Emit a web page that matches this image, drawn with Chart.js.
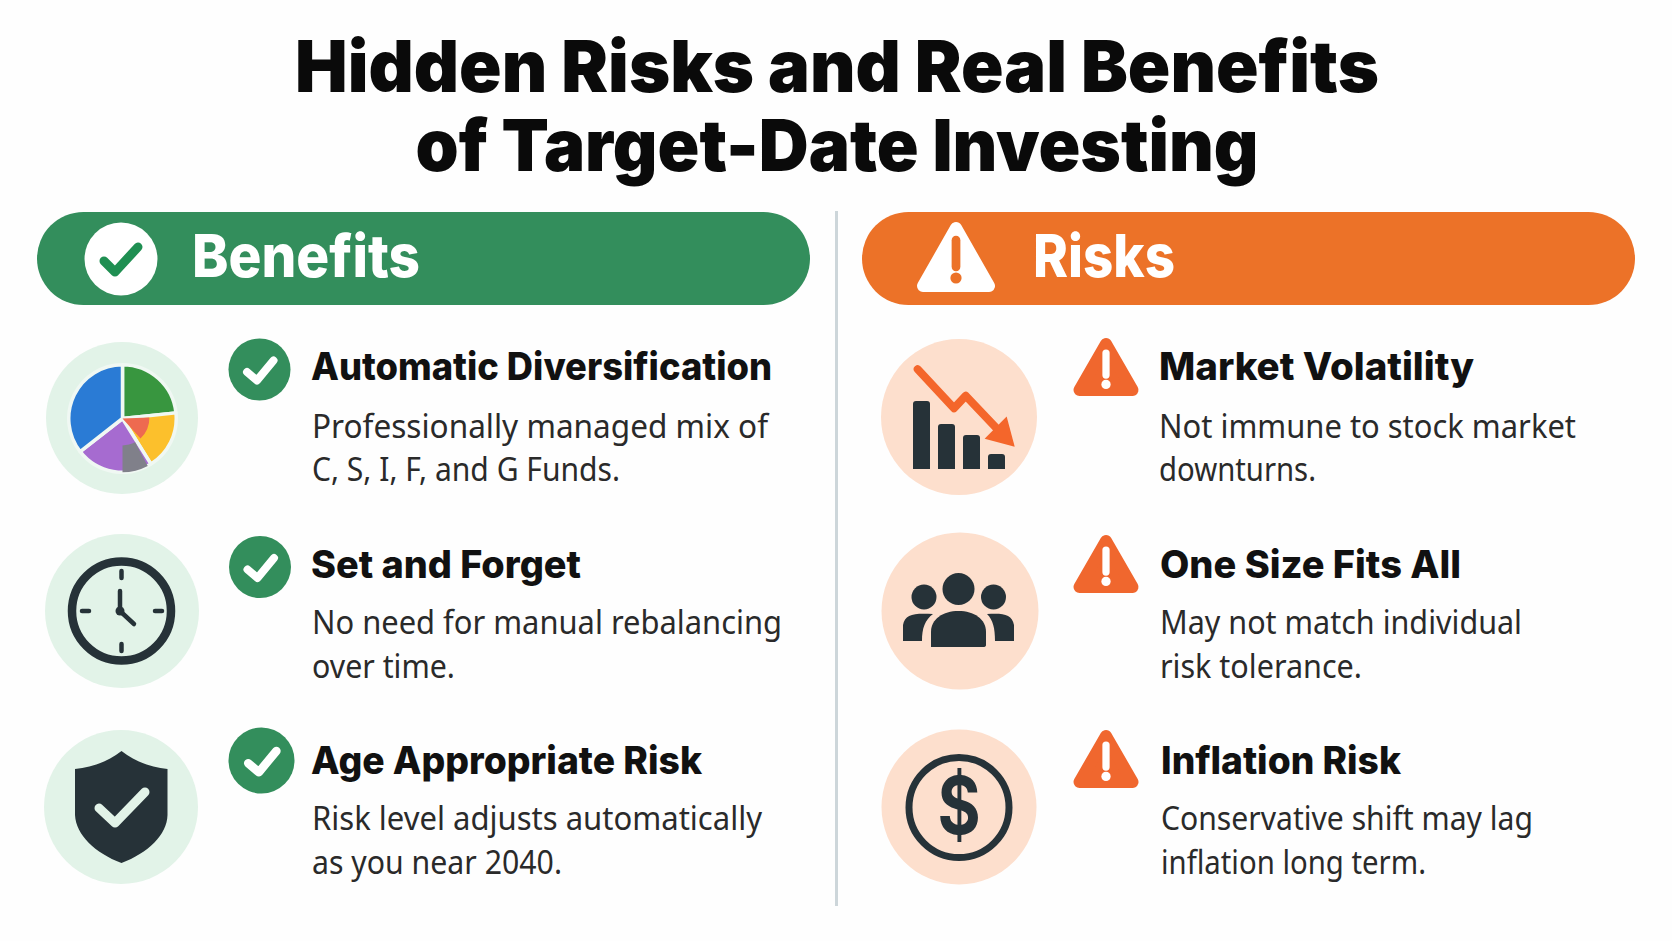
<!DOCTYPE html>
<html>
<head>
<meta charset="utf-8">
<title>Hidden Risks and Real Benefits of Target-Date Investing</title>
<script src="https://cdn.jsdelivr.net/npm/chart.js@4/dist/chart.umd.min.js"></script>
<style>
  html, body { margin: 0; padding: 0; background: #fefefe; }
  #page { position: relative; width: 1672px; height: 941px; overflow: hidden; }
  #page svg { position: absolute; left: 0; top: 0; }
  .icon-chart { position: absolute; }
  .icon-chart canvas { display: block; }
  text { font-family: Inter, sans-serif; }
  .title { font-size: 72px; font-weight: 900; fill: #0a0a0a; text-anchor: middle; }
  .banner { font-size: 59px; font-weight: 800; fill: #fff; }
  .head { font-size: 38px; font-weight: 800; fill: #111; }
  .body { font-family: "Noto Sans", sans-serif; font-size: 32px; fill: #2a2a2a; }
</style>
</head>
<body>
<div id="page">
  <svg id="art" width="1672" height="941" viewBox="0 0 1672 941" xmlns="http://www.w3.org/2000/svg"></svg>
  <div class="icon-chart" style="left:67px;top:363px;width:111px;height:111px"><canvas id="pieBase"></canvas></div>
  <div class="icon-chart" style="left:67px;top:363px;width:111px;height:111px"><canvas id="pieInner"></canvas></div>
  <div class="icon-chart" style="left:909px;top:399px;width:100px;height:70px"><canvas id="barsIcon"></canvas></div>
  <div class="icon-chart" style="left:905px;top:355px;width:120px;height:100px"><canvas id="trendIcon"></canvas></div>
</div>

<script>
// text
const titleLines = ['Hidden Risks and Real Benefits', 'of Target-Date Investing'];
const benefitHeads = ['Automatic Diversification', 'Set and Forget', 'Age Appropriate Risk'];
const benefitBodies = [
    ['Professionally managed mix of', 'C, S, I, F, and G Funds.'],
    ['No need for manual rebalancing', 'over time.'],
    ['Risk level adjusts automatically', 'as you near 2040.']
];
const riskHeads = ['Market Volatility', 'One Size Fits All', 'Inflation Risk'];
const riskBodies = [
    ['Not immune to stock market', 'downturns.'],
    ['May not match individual', 'risk tolerance.'],
    ['Conservative shift may lag', 'inflation long term.']
];

// pie icon, degrees of each slice going clockwise from the top
const pieLabels = ['Green', 'Yellow', 'Purple', 'Blue'];
const pieValues = [84, 64, 84, 128];
const pieColors = ['#38963f', '#fcc02c', '#a66bd0', '#2a7bd5'];
const pieOverlayOuter = [152, 28, 180];
const pieOverlayInner = [88, 50, 222];

// falling bars icon
const barLabels = ['1', '2', '3', '4'];
const barValues = [68, 45, 34, 15];

// falling trend line icon
const trendX = [12.7, 49, 60.7, 97];
const trendY = [85.7, 46.7, 59.3, 21];

const GREEN = '#338e5c';
const ORANGE = '#ec7228';
const ALERT = '#f0672e';
const DARK = '#263238';
const PALE_GREEN = '#e2f3e8';
const PALE_ORANGE = '#fddfcd';

const art = document.getElementById('art');
let svg = '';

function addText(cls, x, y, str, width) {
    const safe = str.replace(/&/g, '&amp;');
    const fit = width ? ` textLength="${width}" lengthAdjust="spacingAndGlyphs"` : '';
    svg += `<text class="${cls}" x="${x}" y="${y}"${fit}>${safe}</text>`;
}

function checkBadge(cx, cy, r) {
    const k = r / 31;
    svg += `<circle cx="${cx}" cy="${cy}" r="${r}" fill="${GREEN}"/>`;
    svg += `<polyline points="${cx - 12.5 * k},${cy + 2.5 * k} ${cx - 2.5 * k},${cy + 11 * k} ${cx + 14 * k},${cy - 9 * k}" fill="none" stroke="#fff" stroke-width="${8 * k}" stroke-linecap="round" stroke-linejoin="round"/>`;
}

function warnTriangle(cx, top, bottom, halfW, fill, mark) {
    const rad = 6;
    svg += `<path d="M${cx} ${top + rad} L${cx + halfW - rad} ${bottom - rad} L${cx - halfW + rad} ${bottom - rad} Z" fill="${fill}" stroke="${fill}" stroke-width="${rad * 2}" stroke-linejoin="round"/>`;
    const h = bottom - top;
    svg += `<line x1="${cx}" y1="${top + h * 0.26}" x2="${cx}" y2="${top + h * 0.64}" stroke="${mark}" stroke-width="${h * 0.125}" stroke-linecap="round"/>`;
    svg += `<circle cx="${cx}" cy="${top + h * 0.8}" r="${h * 0.08}" fill="${mark}"/>`;
}

// title
addText('title', 837, 92, titleLines[0], 1084);
addText('title', 837, 171, titleLines[1], 843);

// banners and divider
svg += `<rect x="37" y="212" width="773" height="93" rx="46.5" fill="${GREEN}"/>`;
svg += `<rect x="862" y="212" width="773" height="93" rx="46.5" fill="${ORANGE}"/>`;
svg += `<line x1="836.5" y1="211" x2="836.5" y2="906" stroke="#cdd6da" stroke-width="3"/>`;
svg += `<circle cx="121" cy="259" r="36.5" fill="#fff"/>`;
svg += `<polyline points="104,261 115,272 138,247" fill="none" stroke="#1f8f52" stroke-width="9" stroke-linecap="round" stroke-linejoin="round"/>`;
warnTriangle(956, 222, 292, 39, '#fff', ORANGE);
addText('banner', 192, 277, 'Benefits', 228);
addText('banner', 1033, 277, 'Risks', 142);

// rows of text, baselines per row
const headBase = [380, 578, 774];
const lineBase = [[438, 481], [634, 678], [830, 874]];
const leftX = [311, 311, 311];
const rightX = [1159, 1160, 1161];
const benefitHeadWidths = [461, 270, 391];
const riskHeadWidths = [315, 301, 240];
const benefitLineWidths = [[456, 308], [470, 143], [450, 250]];
const riskLineWidths = [[417, 157], [362, 202], [372, 265]];
benefitHeads.forEach((h, i) => {
    addText('head', leftX[i], headBase[i], h, benefitHeadWidths[i]);
    benefitBodies[i].forEach((l, j) => addText('body', leftX[i] + 1, lineBase[i][j], l, benefitLineWidths[i][j]));
});
riskHeads.forEach((h, i) => {
    addText('head', rightX[i], headBase[i], h, riskHeadWidths[i]);
    riskBodies[i].forEach((l, j) => addText('body', rightX[i], lineBase[i][j], l, riskLineWidths[i][j]));
});

// pale discs behind icons
svg += `<circle cx="122" cy="418" r="76" fill="${PALE_GREEN}"/>`;
svg += `<circle cx="122" cy="611" r="77" fill="${PALE_GREEN}"/>`;
svg += `<circle cx="121" cy="807" r="77" fill="${PALE_GREEN}"/>`;
svg += `<circle cx="959" cy="417" r="78" fill="${PALE_ORANGE}"/>`;
svg += `<circle cx="960" cy="611" r="78.5" fill="${PALE_ORANGE}"/>`;
svg += `<circle cx="959" cy="807" r="77.5" fill="${PALE_ORANGE}"/>`;

// badges
checkBadge(259.5, 369.5, 31);
checkBadge(260, 567, 31);
checkBadge(261.5, 760.5, 33);
warnTriangle(1106, 338, 396, 32.5, ALERT, '#fff');
warnTriangle(1106, 535, 593, 32.5, ALERT, '#fff');
warnTriangle(1106, 730, 788, 32.5, ALERT, '#fff');

// clock
svg += `<circle cx="121.5" cy="611" r="49.5" fill="none" stroke="${DARK}" stroke-width="8.5"/>`;
svg += `<g stroke="${DARK}" stroke-width="4.5" stroke-linecap="round" fill="none">
  <line x1="121.5" y1="571" x2="121.5" y2="578"/><line x1="121.5" y1="644" x2="121.5" y2="651"/>
  <line x1="82" y1="611" x2="89" y2="611"/><line x1="155" y1="611" x2="162" y2="611"/>
  <polyline points="120,591 120,611 134,624" stroke-linejoin="round"/></g>`;
svg += `<circle cx="120" cy="611" r="4.5" fill="${DARK}"/>`;

// shield
svg += `<path d="M121.5 751 C108 762 92 767 75 769 L75 815 C76 835 95 853 121.5 863 C148 853 167 835 167.5 815 L167.5 769 C151 767 135 762 121.5 751 Z" fill="${DARK}"/>`;
svg += `<polyline points="99,808 115,823 145,792" fill="none" stroke="${PALE_GREEN}" stroke-width="9" stroke-linecap="round" stroke-linejoin="round"/>`;

// people
svg += `<g fill="${DARK}">
  <circle cx="958.5" cy="589" r="16"/><circle cx="924" cy="597" r="12.5"/><circle cx="993.5" cy="597" r="12.5"/>
  <path d="M931 647 L931 632 C931 619 943 611 958.5 611 C974 611 986 619 986 632 L986 645 Q986 647 983 647 Z"/>
  <path d="M903 641 L903 625 C905 614 914 613 933 614 C925 620 922 628 922 641 Z"/>
  <path d="M1014 641 L1014 625 C1012 614 1003 613 987 614 C993 620 995 628 995 641 Z"/></g>`;

// dollar ring
svg += `<circle cx="959" cy="807.5" r="50" fill="none" stroke="${DARK}" stroke-width="7"/>`;
svg += `<text transform="translate(959,834) scale(1,1.2)" text-anchor="middle" style="font-family:Inter,sans-serif;font-size:66px;font-weight:700" fill="${DARK}">$</text>`;

art.innerHTML = svg;

// charts for the icons
Chart.defaults.animation = false;
Chart.defaults.responsive = true;
Chart.defaults.maintainAspectRatio = false;
Chart.defaults.plugins.legend.display = false;
Chart.defaults.plugins.tooltip.enabled = false;

new Chart(document.getElementById('pieBase'), {
    type: 'pie',
    data: {
        labels: pieLabels,
        datasets: [{ data: pieValues, backgroundColor: pieColors, borderColor: '#f0f8f3', borderWidth: 3.5 }]
    }
});

// coral and grey pieces sit on top of the yellow and purple slices
new Chart(document.getElementById('pieInner'), {
    type: 'pie',
    data: {
        datasets: [
            { data: pieOverlayOuter, backgroundColor: ['transparent', '#80808a', 'transparent'], borderColor: 'transparent', borderWidth: 3.5 },
            { data: pieOverlayInner, backgroundColor: ['transparent', '#ee6a50', 'transparent'], borderColor: 'transparent', borderWidth: 3.5 }
        ]
    }
});

new Chart(document.getElementById('barsIcon'), {
    type: 'bar',
    data: {
        labels: barLabels,
        datasets: [{ data: barValues, backgroundColor: DARK, borderRadius: 3, barPercentage: 0.68, categoryPercentage: 1 }]
    },
    options: {
        scales: {
            x: { display: false },
            y: { display: false, min: 0, max: 70 }
        }
    }
});

new Chart(document.getElementById('trendIcon'), {
    type: 'line',
    data: {
        datasets: [{
            data: trendX.map((x, i) => ({ x: x, y: trendY[i] })),
            borderColor: '#f4662b',
            borderWidth: 8,
            borderCapStyle: 'round',
            borderJoinStyle: 'round',
            tension: 0,
            pointStyle: 'triangle',
            pointRadius: [0, 0, 0, 18],
            pointRotation: 135,
            pointBackgroundColor: '#f4662b',
            pointBorderWidth: 0
        }]
    },
    options: {
        layout: { autoPadding: false },
        scales: {
            x: { type: 'linear', display: false, min: 0, max: 120 },
            y: { display: false, min: 0, max: 100 }
        }
    }
});
</script>
</body>
</html>
